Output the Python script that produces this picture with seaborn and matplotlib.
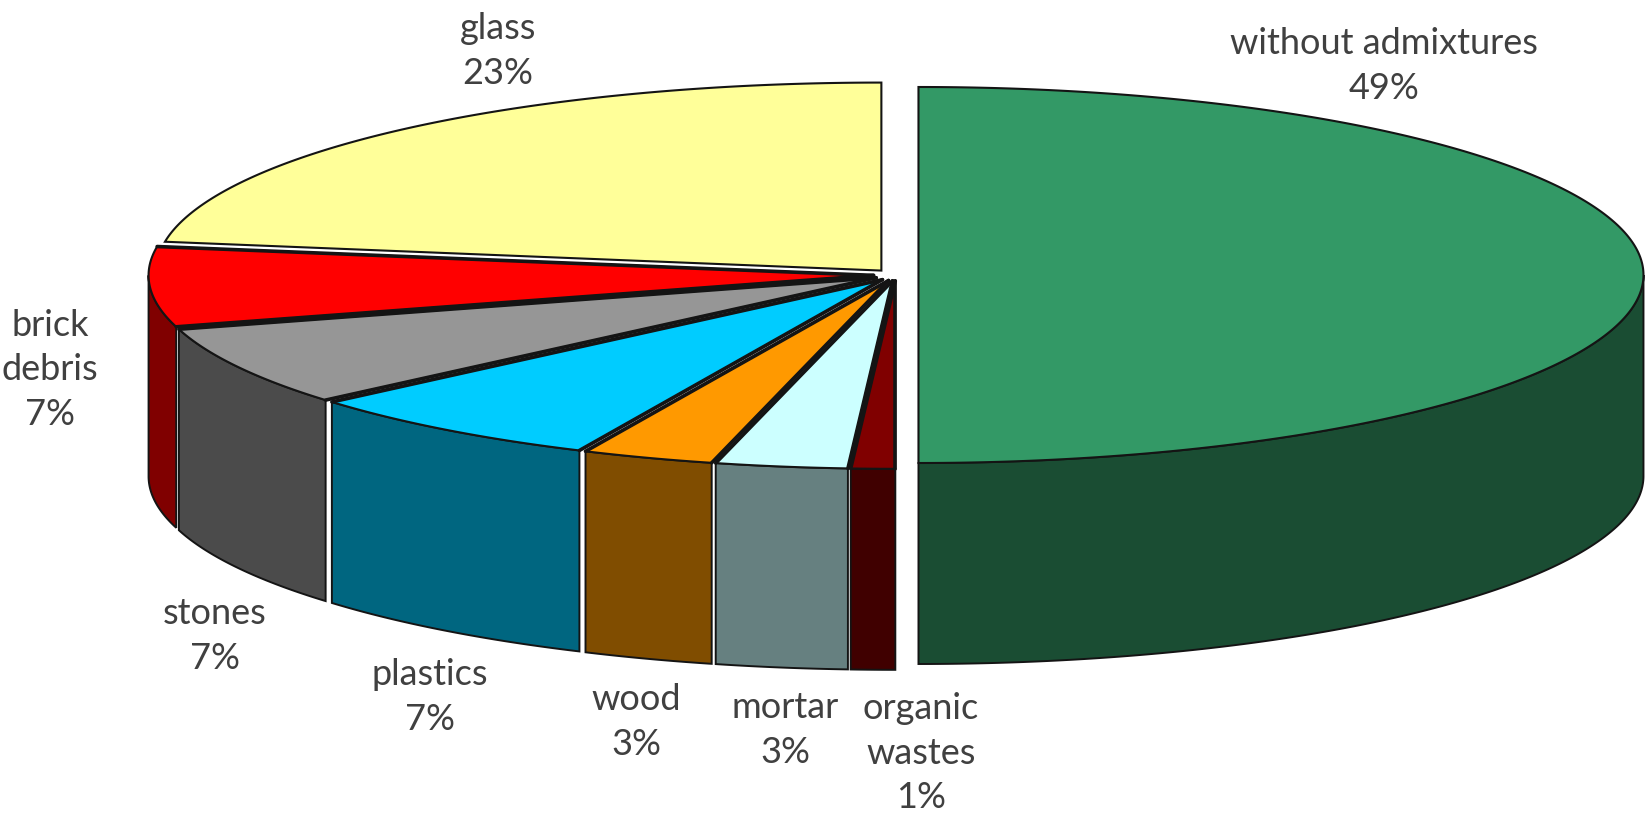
import numpy as np
import matplotlib
matplotlib.use("Agg")
import matplotlib.pyplot as plt
import seaborn as sns

# Share of each admixture, in percent, clockwise from the right half
categories = ["without admixtures", "organic\nwastes", "mortar", "wood",
              "plastics", "stones", "brick\ndebris", "glass"]
shares = [49, 1, 3, 3, 7, 7, 7, 23]

top_colours = ["#339966", "#800000", "#CCFFFF", "#FF9900",
               "#00CCFF", "#969696", "#FF0000", "#FFFF99"]

# Label centres in figure pixels
label_x = [1384, 921, 785, 636, 430, 215, 50, 498]
label_y = [66, 753, 730, 722, 697, 636, 370, 51]

WIDTH, HEIGHT = 1646, 818
CX, CY = 896, 275       # centre of the unexploded disc
A, B = 725, 188         # semi-axes of the top ellipse
DEPTH = 201             # thickness of the disc
EXPLODE = 0.031         # slice displacement as a fraction of the radius

sns.set_theme(style="white")
plt.rcParams["font.family"] = ["Lato", "DejaVu Sans"]
top_palette = sns.color_palette(top_colours)
wall_palette = [tuple(0.5 * c for c in col) for col in top_palette]
EDGE = "#141414"

fig, ax = plt.subplots(figsize=(WIDTH / 100, HEIGHT / 100), dpi=100)
ax.set_position([0, 0, 1, 1])
ax.set_xlim(0, WIDTH)
ax.set_ylim(HEIGHT, 0)
ax.axis("off")

# The largest slice fills the right half of the disc; the others share the left half
rest = np.asarray(shares[1:], dtype=float)
edges = np.r_[0, 180, 180 + np.cumsum(rest) / rest.sum() * 180]
mids = (edges[:-1] + edges[1:]) / 2


def rim(cx, cy, t0, t1):
    """Points along the ellipse between two angles, in degrees clockwise from the back."""
    t = np.radians(np.linspace(t0, t1, max(int(abs(t1 - t0) * 4), 2)))
    return cx + A * np.sin(t), cy - B * np.cos(t)


# Slices are painted from the back of the disc towards the viewer
order = np.argsort(np.abs(mids - 180))[::-1]

for i in order:
    t0, t1 = edges[i], edges[i + 1]
    mid = np.radians(mids[i])
    cx = CX + EXPLODE * A * np.sin(mid)
    cy = CY - EXPLODE * B * np.cos(mid)

    # Outer wall, only where the rim faces the viewer
    lo, hi = max(t0, 90), min(t1, 270)
    if hi > lo:
        wx, wy = rim(cx, cy, lo, hi)
        ax.fill(np.r_[wx, wx[::-1]], np.r_[wy, wy[::-1] + DEPTH],
                facecolor=wall_palette[i], edgecolor=EDGE, linewidth=1.4, zorder=3)

    # Top face
    tx, ty = rim(cx, cy, t0, t1)
    ax.fill(np.r_[cx, tx], np.r_[cy, ty], facecolor=top_palette[i],
            edgecolor=EDGE, linewidth=1.5, zorder=4)

    # Heavier lines along the radii of the narrow front slices
    if 0 < i < len(shares) - 1:
        ax.plot([cx, tx[0]], [cy, ty[0]], color=EDGE, linewidth=2.6, zorder=5,
                solid_capstyle="round")
        ax.plot([cx, tx[-1]], [cy, ty[-1]], color=EDGE, linewidth=2.6, zorder=5,
                solid_capstyle="round")

for name, share, x, y in zip(categories, shares, label_x, label_y):
    ax.text(x, y, f"{name}\n{share}%", ha="center", va="center", fontsize=26,
            color="#404040", linespacing=1.44, zorder=10)

fig.savefig("out.png", dpi=100, facecolor="white")
